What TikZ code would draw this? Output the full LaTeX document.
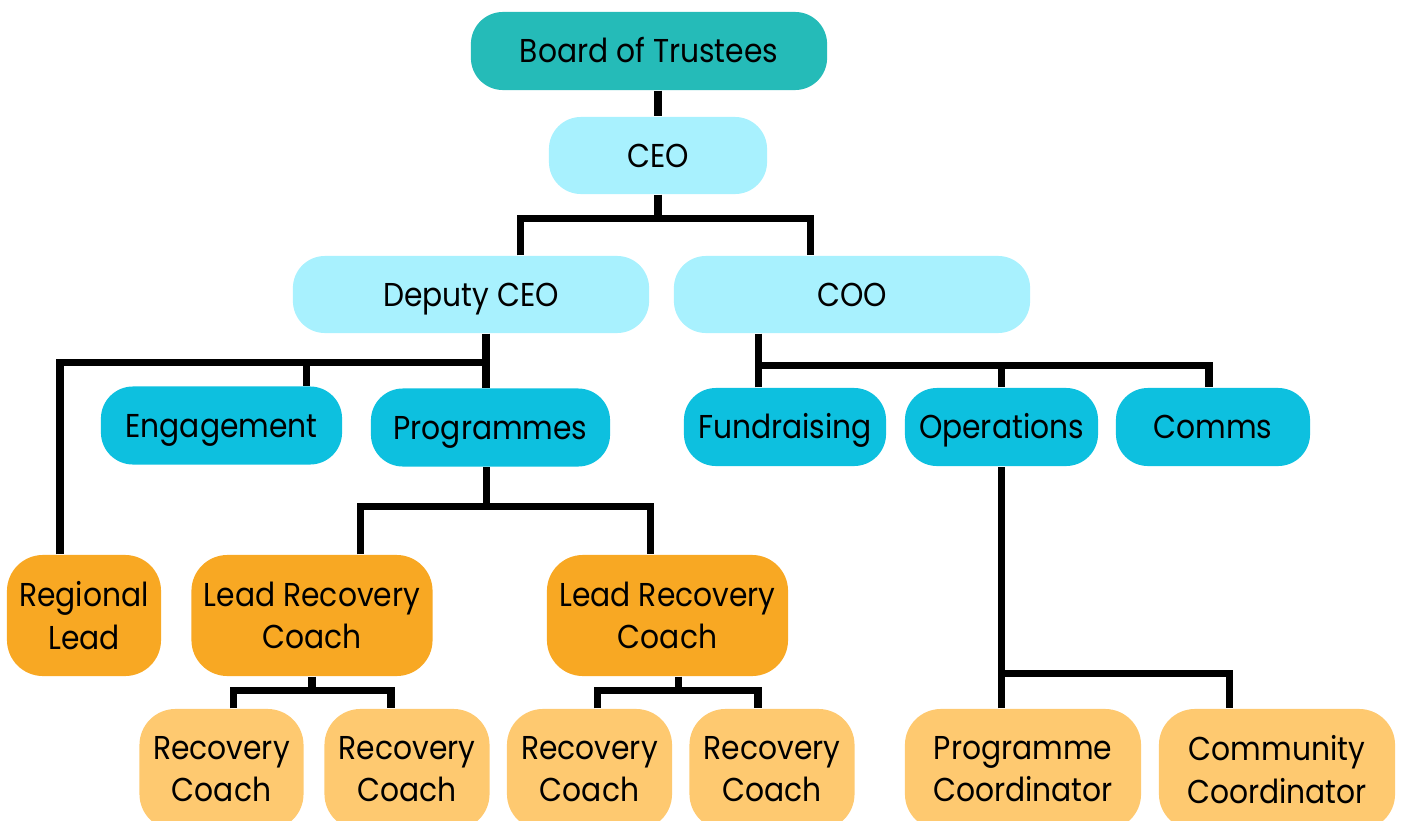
\documentclass[tikz,border=0pt]{standalone}
\usepackage{fontspec}
\setmainfont{Poppins}[FakeStretch=0.9]
\usetikzlibrary{positioning}

\definecolor{trustee}{HTML}{25BBB8}
\definecolor{exec}{HTML}{A8F1FE}
\definecolor{dept}{HTML}{0DC0DF}
\definecolor{lead}{HTML}{F8A823}
\definecolor{coach}{HTML}{FEC970}

\tikzset{
  box/.style={rectangle, rounded corners=0.32cm, inner sep=0pt, align=center,
    font=\fontsize{9.4}{12}\selectfont},
  oneline/.style={box, text height=0.23cm, text depth=0pt},
  board/.style={oneline, fill=trustee, minimum width=3.56cm, minimum height=0.78cm},
  chief/.style={oneline, fill=exec, minimum height=0.77cm},
  unit/.style={oneline, fill=dept, minimum height=0.78cm},
  leadbox/.style={box, fill=lead, rounded corners=0.36cm, minimum height=1.21cm},
  coachbox/.style={box, fill=coach, rounded corners=0.36cm, minimum height=1.21cm},
  link/.style={line width=2pt}
}

\begin{document}
\begin{tikzpicture}[x=0.01cm,y=-0.01cm]
    \clip (0,0) rectangle (1402,821);
    \useasboundingbox (0,0) rectangle (1402,821);

    \node[board] (board) at (649,51) {Board of Trustees};
    \node[chief,minimum width=2.18cm] (ceo) at (658,155.5) {CEO};
    \node[chief,minimum width=3.56cm] (dep) at (471,294.5) {Deputy CEO};
    \node[chief,minimum width=3.56cm] (coo) at (852,294.5) {COO};

    \node[unit,minimum width=2.41cm] (eng) at (221.5,425.5) {Engagement};
    \node[unit,minimum width=2.39cm] (prog) at (490.5,427.5) {Programmes};
    \node[unit,minimum width=2.02cm] (fund) at (785,427) {Fundraising};
    \node[unit,minimum width=1.93cm] (ops) at (1001.5,427) {Operations};
    \node[unit,minimum width=1.94cm] (comms) at (1213,427) {Comms};

    \node[leadbox,minimum width=1.54cm] (reg) at (84,615.5) {Regional\\Lead};
    \node[leadbox,minimum width=2.41cm] (lrc1) at (312,615.5) {Lead Recovery\\Coach};
    \node[leadbox,minimum width=2.41cm] (lrc2) at (667.5,615.5) {Lead Recovery\\Coach};

    \node[coachbox,minimum width=1.64cm] (rc1) at (221.5,769.5) {Recovery\\Coach};
    \node[coachbox,minimum width=1.65cm] (rc2) at (407,769.5) {Recovery\\Coach};
    \node[coachbox,minimum width=1.65cm] (rc3) at (589.5,769.5) {Recovery\\Coach};
    \node[coachbox,minimum width=1.65cm] (rc4) at (772,769.5) {Recovery\\Coach};
    \node[coachbox,minimum width=2.36cm] (pc) at (1023,769.5) {Programme\\Coordinator};
    \node[coachbox,minimum width=2.36cm] (cc) at (1277,769.5) {Community\\Coordinator};

    % board and chiefs
    \draw[link] (ceo.north |- board.south) -- (ceo.north);
    \draw[link] (ceo.south) -- ++(0,24) coordinate (c1);
    \draw[link] ([xshift=.49cm]dep.north) |- (c1) -| ([xshift=-.41cm]coo.north);

    % deputy side
    \draw[link] ([xshift=.15cm]dep.south) -- ++(0,29) coordinate (d1);
    \draw[link] ([xshift=-.24cm]reg.north) |- (d1);
    \draw[link] ([xshift=.85cm]eng.north) -- ++(0,-25);
    \draw[link] (prog.north -| d1) -- (d1);
    \draw[link] ([xshift=-.04cm]prog.south) -- ++(0,39) coordinate (p1);
    \draw[link] ([xshift=.48cm]lrc1.north) |- (p1) -| ([xshift=-.17cm]lrc2.north);
    \draw[link] (lrc1.south) -- ++(0,14) coordinate (l1);
    \draw[link] ([xshift=.12cm]rc1.north) |- (l1) -| ([xshift=-.16cm]rc2.north);
    \draw[link] ([xshift=.11cm]lrc2.south) -- ++(0,14) coordinate (l2);
    \draw[link] ([xshift=.08cm]rc3.north) |- (l2) -| ([xshift=-.14cm]rc4.north);

    % coo side
    \draw[link] ([xshift=-.93cm]coo.south) -- ++(0,32) coordinate (o1);
    \draw[link] (fund.north -| o1) -- (o1) -| ([xshift=-.04cm]comms.north);
    \draw[link] (ops.north) -- (ops.north |- o1);
    \draw[link] (pc.north -| ops.south) -- (ops.south);
    \draw[link] (ops.south) ++(0,207) coordinate (q1) -| ([xshift=-.47cm]cc.north);
\end{tikzpicture}
\end{document}
